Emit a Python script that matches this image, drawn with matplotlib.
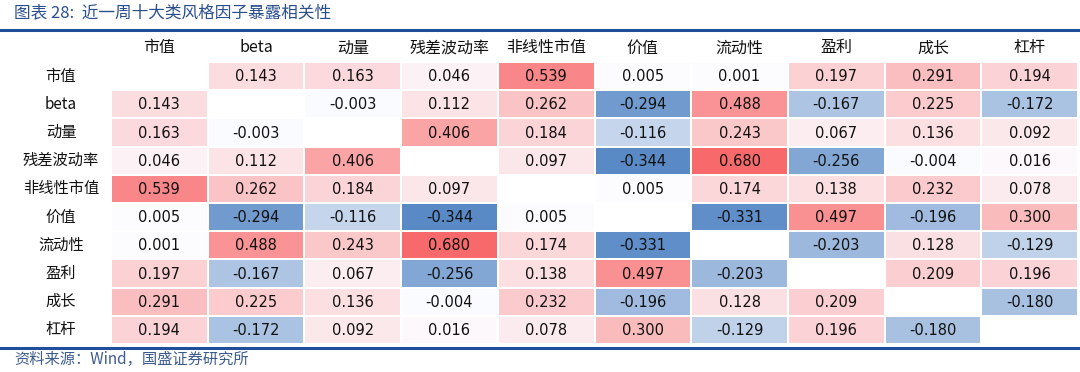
import numpy as np
import matplotlib
matplotlib.use("Agg")
import matplotlib.pyplot as plt
from matplotlib.colors import LinearSegmentedColormap, TwoSlopeNorm

plt.rcParams['font.family'] = ['Noto Sans CJK SC', 'DejaVu Sans']

factors = ["市值", "beta", "动量", "残差波动率", "非线性市值", "价值", "流动性", "盈利", "成长", "杠杆"]

corr = [
    [None, 0.143, 0.163, 0.046, 0.539, 0.005, 0.001, 0.197, 0.291, 0.194],
    [0.143, None, -0.003, 0.112, 0.262, -0.294, 0.488, -0.167, 0.225, -0.172],
    [0.163, -0.003, None, 0.406, 0.184, -0.116, 0.243, 0.067, 0.136, 0.092],
    [0.046, 0.112, 0.406, None, 0.097, -0.344, 0.680, -0.256, -0.004, 0.016],
    [0.539, 0.262, 0.184, 0.097, None, 0.005, 0.174, 0.138, 0.232, 0.078],
    [0.005, -0.294, -0.116, -0.344, 0.005, None, -0.331, 0.497, -0.196, 0.300],
    [0.001, 0.488, 0.243, 0.680, 0.174, -0.331, None, -0.203, 0.128, -0.129],
    [0.197, -0.167, 0.067, -0.256, 0.138, 0.497, -0.203, None, 0.209, 0.196],
    [0.291, 0.225, 0.136, -0.004, 0.232, -0.196, 0.128, 0.209, None, -0.180],
    [0.194, -0.172, 0.092, 0.016, 0.078, 0.300, -0.129, 0.196, -0.180, None],
]

title = "图表 28:  近一周十大类风格因子暴露相关性"
source = "资料来源：Wind，国盛证券研究所"

W, H = 1080, 372
fig = plt.figure(figsize=(W / 100, H / 100), dpi=100)
fig.patch.set_facecolor("white")

def fx(px):
    return px / W

def fy(py):
    return 1 - py / H

# heatmap axes
left, right, top, bottom = 111, 1078, 62, 344
ax = fig.add_axes([fx(left), fy(bottom), fx(right - left), (bottom - top) / H])

data = np.array([[np.nan if v is None else v for v in row] for row in corr], dtype=float)
cmap = LinearSegmentedColormap.from_list("xl", ["#5A8AC6", "#FCFCFF", "#F8696B"])
cmap.set_bad("white")
norm = TwoSlopeNorm(vmin=np.nanmin(data), vcenter=0.0, vmax=np.nanmax(data))
n = len(factors)
ax.pcolormesh(np.arange(n + 1), np.arange(n + 1), np.ma.masked_invalid(data),
              cmap=cmap, norm=norm, edgecolors="white", linewidth=1.2)
ax.set_xlim(0, n)
ax.set_ylim(n, 0)
for s in ax.spines.values():
    s.set_visible(False)
ax.set_xticks([])
ax.set_yticks([])

for i in range(n):
    for j in range(n):
        v = corr[i][j]
        if v is None:
            continue
        ax.text(j + 0.5, i + 0.52, f"{v:.3f}", ha="center", va="center",
                fontsize=10.5, color="#111111", family="DejaVu Sans")

# column headers
for j, name in enumerate(factors):
    ax.text(j + 0.5, -0.5, name, ha="center", va="center", fontsize=11.5,
            color="#111111", fontweight="medium")

# row labels
for i, name in enumerate(factors):
    fig.text(fx(61), fy(top + (i + 0.5) * (bottom - top) / n), name,
             ha="center", va="center", fontsize=11, color="#111111",
             fontweight="medium")

# title
fig.text(fx(14), fy(13), title, ha="left", va="center", fontsize=12,
         color="#2A4F8F", style="italic")
# blue lines
fig.add_artist(plt.Line2D([0, 1], [fy(30), fy(30)], color="#1F4E9A", lw=2.2))
fig.add_artist(plt.Line2D([0, 1], [fy(348), fy(348)], color="#1F4E9A", lw=2.2))
# source
fig.text(fx(14), fy(359), source, ha="left", va="center", fontsize=11,
         color="#3D5C8E", style="italic")

fig.savefig("out.png", dpi=100)
